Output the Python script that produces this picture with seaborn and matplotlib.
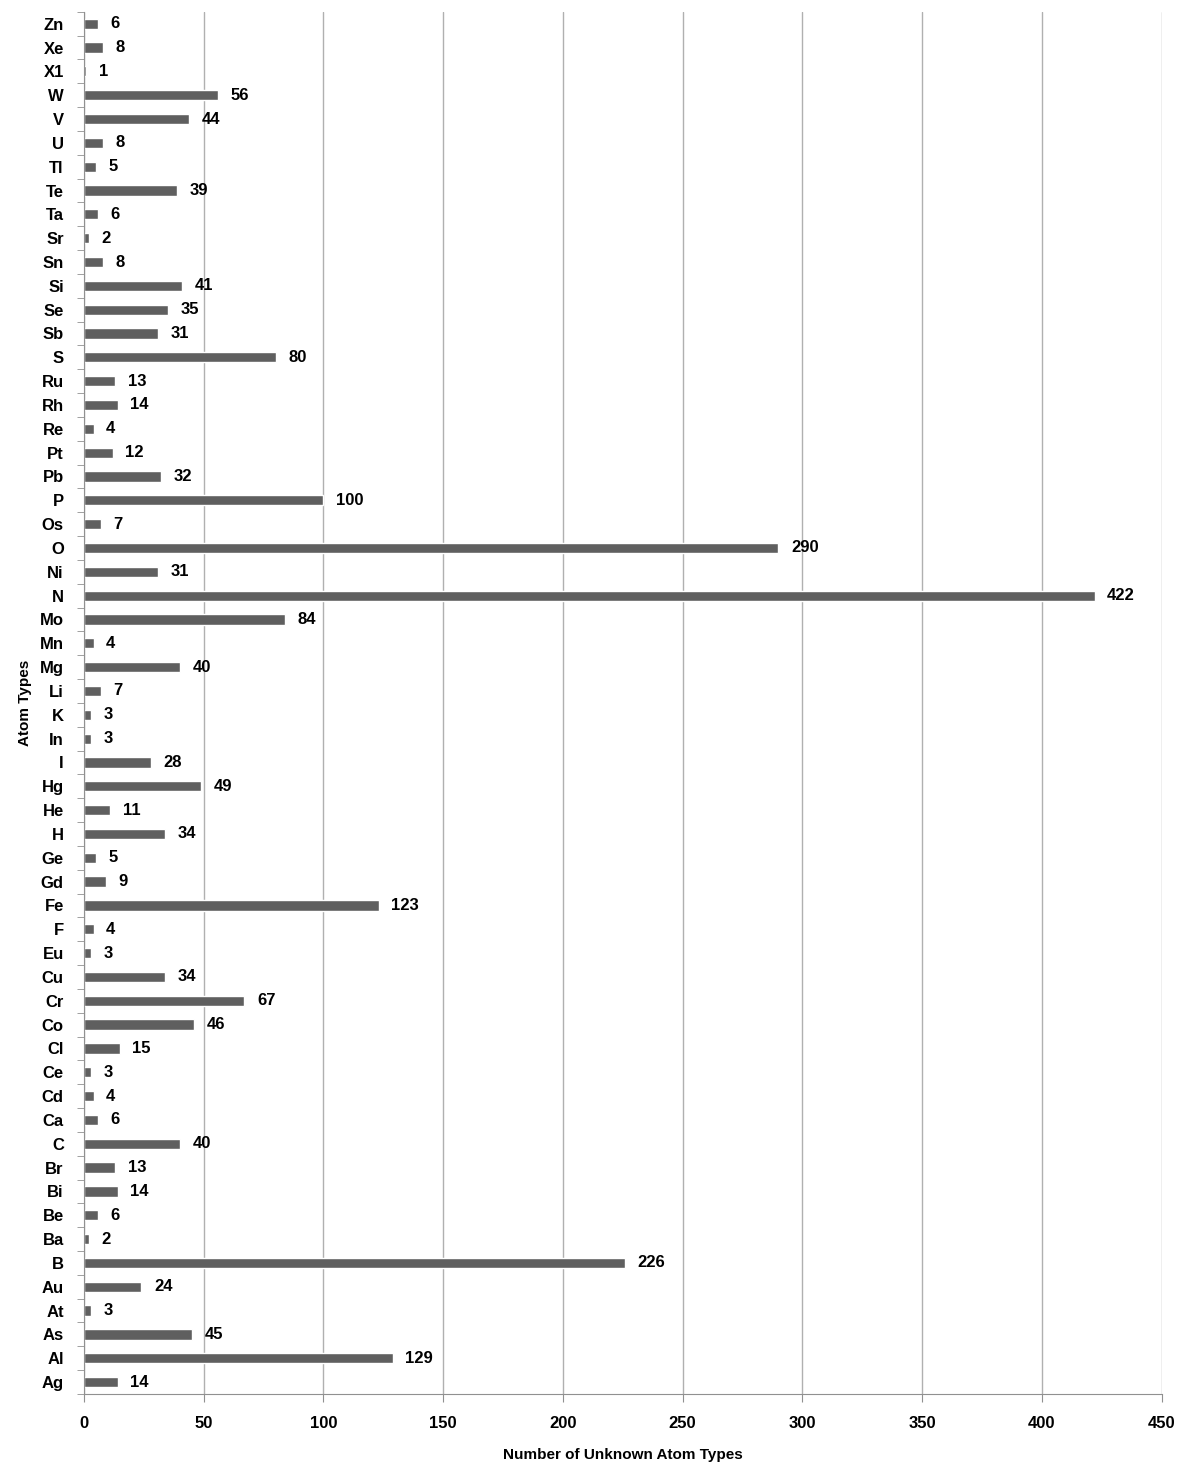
import pandas as pd
import matplotlib.pyplot as plt
import seaborn as sns

# atom types, listed top to bottom as in the chart
atoms = ["Zn", "Xe", "X1", "W", "V", "U", "Tl", "Te", "Ta", "Sr", "Sn", "Si", "Se", "Sb",
         "S", "Ru", "Rh", "Re", "Pt", "Pb", "P", "Os", "O", "Ni", "N", "Mo", "Mn", "Mg",
         "Li", "K", "In", "I", "Hg", "He", "H", "Ge", "Gd", "Fe", "F", "Eu", "Cu", "Cr",
         "Co", "Cl", "Ce", "Cd", "Ca", "C", "Br", "Bi", "Be", "Ba", "B", "Au", "At", "As",
         "Al", "Ag"]
counts = [6, 8, 1, 56, 44, 8, 5, 39, 6, 2, 8, 41, 35, 31,
          80, 13, 14, 4, 12, 32, 100, 7, 290, 31, 422, 84, 4, 40,
          7, 3, 3, 28, 49, 11, 34, 5, 9, 123, 4, 3, 34, 67,
          46, 15, 3, 4, 6, 40, 13, 14, 6, 2, 226, 24, 3, 45,
          129, 14]
x_ticks = [0, 50, 100, 150, 200, 250, 300, 350, 400, 450]

df = pd.DataFrame({"atom": atoms, "count": counts})

sns.set_style("white")
plt.rcParams["font.family"] = ["Liberation Sans", "DejaVu Sans"]

fig = plt.figure(figsize=(12, 14.72), dpi=100)
ax = fig.add_axes([0.07, 0.053, 0.898, 0.939])

sns.barplot(data=df, x="count", y="atom", order=atoms, orient="h",
            color="#5f5f5f", saturation=1, width=0.43, ax=ax)

# data labels
ax.bar_label(ax.containers[0], padding=9, fontsize=12, fontweight="bold", color="black")

ax.set_xlim(0, 450)
ax.set_xticks(x_ticks)
ax.set_ylim(len(atoms) - 0.5, -0.5)
ax.grid(axis="x", color="#b0b0b0", linewidth=1)
ax.set_axisbelow(True)

# tick marks at category boundaries on the y axis
ax.set_yticks(range(len(atoms)))
ax.set_yticklabels(atoms, fontsize=12, fontweight="bold", color="black")
ax.set_yticks([i - 0.5 for i in range(len(atoms) + 1)], minor=True)
ax.tick_params(axis="y", which="major", left=False, pad=11)
ax.tick_params(axis="y", which="minor", left=True, length=5, color="#909090", direction="out")
ax.tick_params(axis="x", bottom=True, length=6, color="#909090", direction="out", pad=10,
               labelsize=12, labelcolor="black")
for lbl in ax.get_xticklabels():
    lbl.set_fontweight("bold")

for side in ["top", "right"]:
    ax.spines[side].set_visible(False)
for side in ["left", "bottom"]:
    ax.spines[side].set_color("#909090")

ax.set_xlabel("Number of Unknown Atom Types", fontsize=11, fontweight="bold",
              color="black", labelpad=12)
ax.set_ylabel("Atom Types", fontsize=11, fontweight="bold", color="black", labelpad=6)

fig.savefig("out.png", dpi=100)
